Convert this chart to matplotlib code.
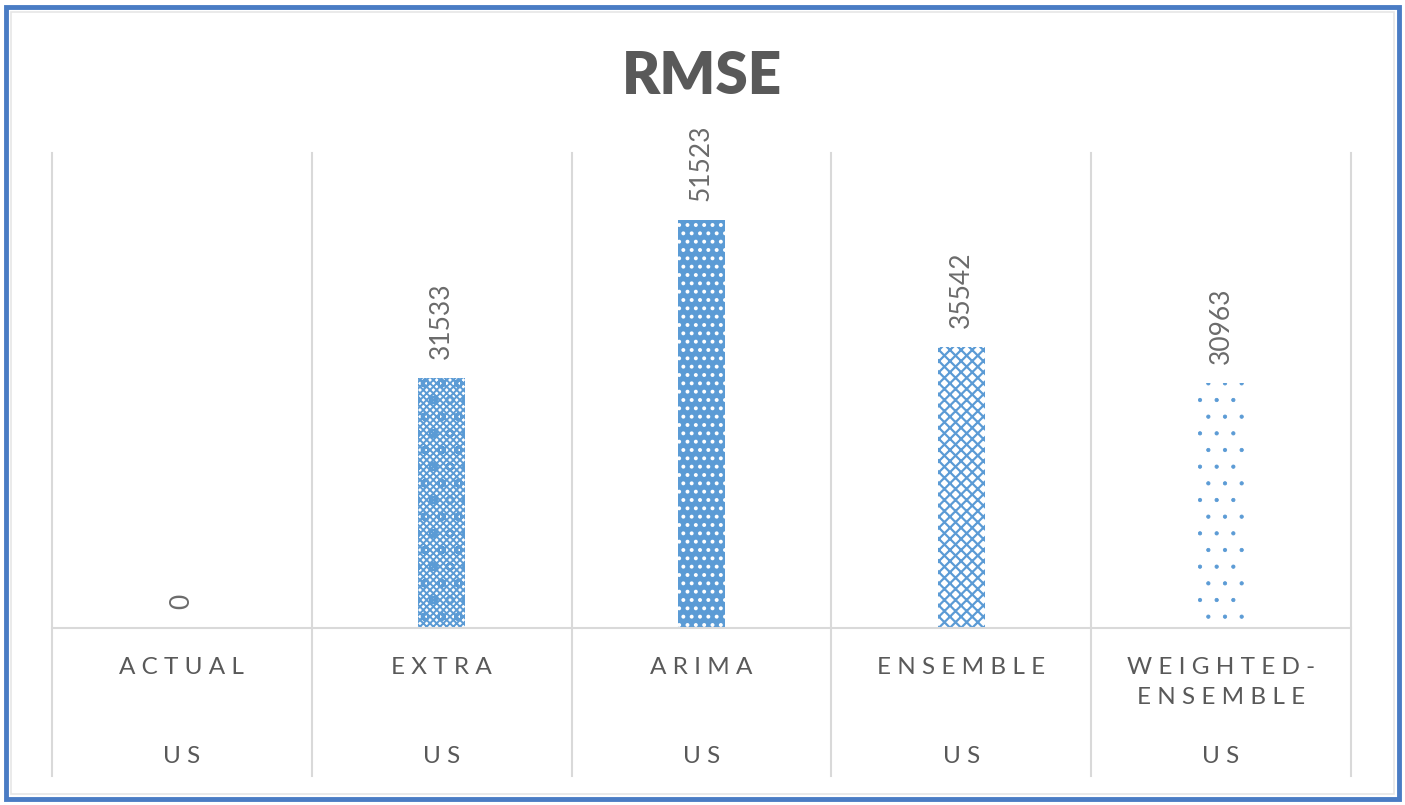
import matplotlib.pyplot as plt
from matplotlib.patches import Rectangle

categories = ['ACTUAL', 'EXTRA', 'ARIMA', 'ENSEMBLE', 'WEIGHTED-\nENSEMBLE']
group_label = 'US'
rmse = [0, 31533, 51523, 35542, 30963]

blue = '#5B9BD5'
grey_text = '#595959'
grid_col = '#D9D9D9'

plt.rcParams['font.family'] = ['Lato', 'DejaVu Sans']


def spaced(s):
    return '\n'.join(' '.join(part) for part in s.split('\n'))


fig = plt.figure(figsize=(14.05, 8.05), dpi=100)
ax = fig.add_axes([52 / 1405, (805 - 628) / 805, 1299 / 1405, 475 / 805])

styles = [
    dict(facecolor='white', edgecolor=blue, hatch='xxxxx'),
    dict(facecolor='white', edgecolor=blue, hatch='xxxxxo'),
    dict(facecolor=blue, edgecolor='white', hatch='..'),
    dict(facecolor='white', edgecolor=blue, hatch='xxx'),
    dict(facecolor='white', edgecolor=blue, hatch='.'),
]
hatch_lw = [1.6, 1.4, 1.6, 1.6, 0.6]
for i, v in enumerate(rmse):
    with plt.rc_context({'hatch.linewidth': hatch_lw[i]}):
        bars = ax.bar(i, v, width=0.18, linewidth=0, **styles[i])
    for b in bars:
        if hasattr(b, 'set_hatch_linewidth'):
            b.set_hatch_linewidth(hatch_lw[i])
    ax.text(i, v + 2400, str(v), rotation=90, ha='center', va='bottom',
            fontsize=19, color='#6B6B6B')

ax.set_xlim(-0.5, len(categories) - 0.5)
ax.set_ylim(0, 60000)
ax.axis('off')

# category separators running down through the label area
for b in [i - 0.5 for i in range(len(categories) + 1)]:
    ax.axvline(b, ymin=-0.312, ymax=1, color=grid_col, lw=1.5, clip_on=False)
ax.axhline(0, color=grid_col, lw=1.5, clip_on=False)

for i, c in enumerate(categories):
    ax.text(i, -3600, spaced(c), ha='center', va='top', fontsize=17.5,
            color=grey_text, linespacing=1.55)
    ax.text(i, -16200, spaced(group_label), ha='center', va='center',
            fontsize=17.5, color=grey_text)

fig.text(0.5, 0.905, 'RMSE', ha='center', va='center', fontsize=42,
         fontweight='heavy', color=grey_text)

# outer frame
fig.patches.append(Rectangle((6 / 1405, 6 / 805), 1393 / 1405, 792 / 805,
                             transform=fig.transFigure, fill=False,
                             edgecolor='#4A7CC4', lw=3.5))
fig.patches.append(Rectangle((11 / 1405, 11 / 805), 1383 / 1405, 782 / 805,
                             transform=fig.transFigure, fill=False,
                             edgecolor='#E6E6E6', lw=1.2))

fig.savefig('out.png', dpi=100)
